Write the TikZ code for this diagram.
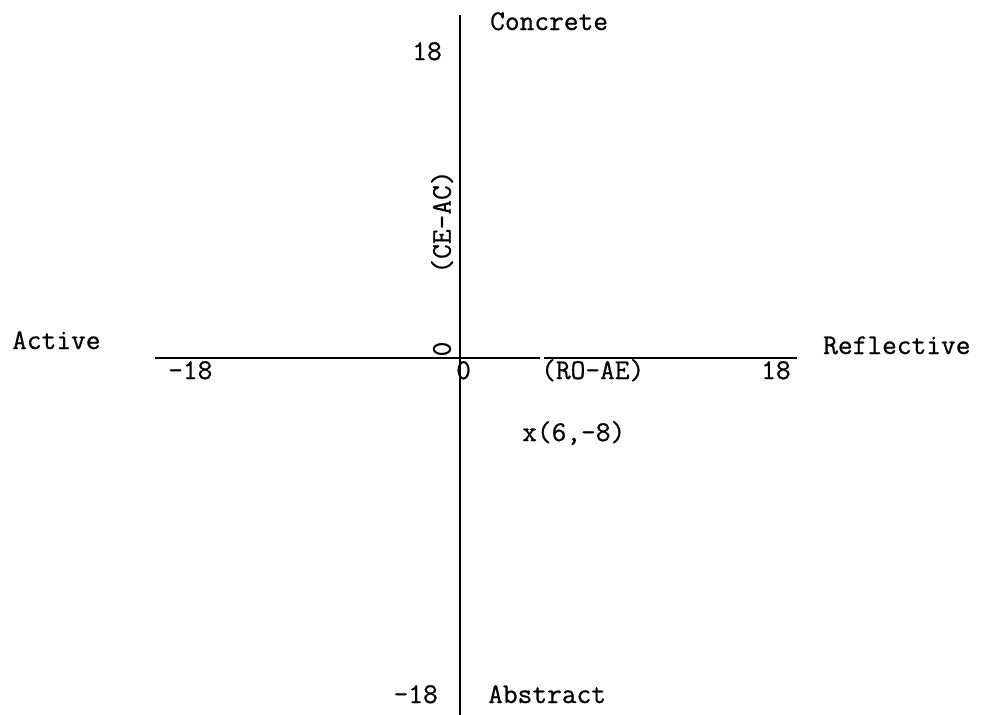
\documentclass[tikz,border=0pt]{standalone}
\usepackage{fontspec}
\newfontfamily\typer[FakeBold=0.7]{Latin Modern Mono}
\usetikzlibrary{positioning}

\begin{document}
\begin{tikzpicture}[x=1pt,y=-1pt,font=\fontsize{28.6}{32}\typer,
axis/.style={line width=1.4pt},
lbl/.style={inner sep=0pt,anchor=base west},
lblr/.style={inner sep=0pt,anchor=base east},
vlbl/.style={inner sep=0pt,rotate=90}]
\useasboundingbox (0,0) rectangle (989,715);
% axes ends
\coordinate (top) at (460,15); \coordinate (bottom) at (460,715);
\coordinate (left) at (155,358); \coordinate (right) at (797,358);
\coordinate (gapl) at (540,358); \coordinate (gapr) at (544,358);
\draw[axis] (top)--(bottom);
\draw[axis] (left)--(gapl); \draw[axis] (gapr)--(right);
% ends of the scales
\node[lbl] (concrete) at (490,30) {Concrete};
\node[lblr] (ytop) at (442,60) {18};
\node[lblr] (ybot) at (438,703) {-18};
\node[lbl] (abstract) at (488,703) {Abstract};
\node[lbl] (active) at (12,349) {Active};
\node[lbl] (reflective) at (823,354) {Reflective};
\node[lbl] (xleft) at (168,379) {-18};
\node[lbl] (xright) at (761,379) {18};
\node[lbl] (xzero) at (456,379) {0};
\node[lbl] (roae) at (541,379) {(RO-AE)};
\node[vlbl] (yzero) at (442,349) {0};
\node[vlbl] (ceac) at (442,222) {(CE-AC)};
% the score
\node[lbl] (score) at (522,441) {x(6,-8)};
\end{tikzpicture}
\end{document}
